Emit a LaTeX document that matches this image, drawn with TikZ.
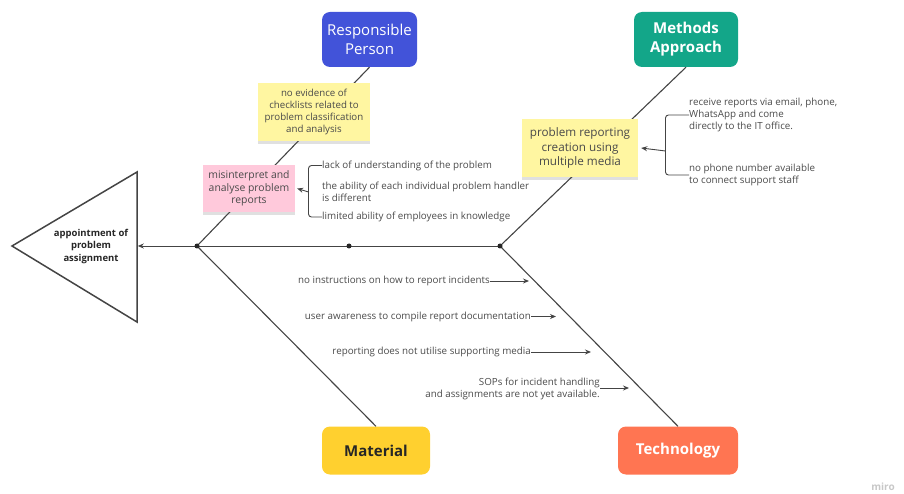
\documentclass[tikz,border=0pt]{standalone}
\usepackage{fontspec}
\setmainfont{Open Sans}
\usetikzlibrary{arrows.meta,shadows}
\definecolor{rpblue}{HTML}{4253D9}
\definecolor{mateal}{HTML}{13A689}
\definecolor{mtyellow}{HTML}{FFD02F}
\definecolor{teorange}{HTML}{FF7552}
\definecolor{stickyY}{HTML}{FFF6A1}
\definecolor{stickyP}{HTML}{FFC9DB}
\definecolor{txtgray}{HTML}{4A4A4A}
\definecolor{linegray}{HTML}{444444}
\tikzset{
  catbox/.style={rounded corners=8pt, minimum width=#1, minimum height=55pt, inner sep=0pt, align=center, font=\fontsize{15}{19}\selectfont},
  sticky/.style={fill=#1, inner sep=0pt, align=center, text=txtgray,
     drop shadow={shadow xshift=0pt, shadow yshift=-3pt, opacity=0.2, fill=black!60}},
  cause/.style={text=txtgray, inner sep=0pt, align=left, font=\fontsize{9.8}{12.4}\selectfont},
  bone/.style={draw=linegray, line width=1.1pt},
  arr/.style={draw=linegray, line width=0.9pt, -{Stealth[length=6pt,width=5pt]}},
  jdot/.style={circle, fill=black!85, inner sep=0pt, minimum size=5pt},
}
\begin{document}
\begin{tikzpicture}[x=1pt,y=-1pt]
\useasboundingbox (0,0) rectangle (904,494);
% category boxes
\node[catbox=95pt, fill=rpblue, text=white] (rp) at (369.5,39.5) {Responsible\\Person};
\node[catbox=104pt, fill=mateal, text=white, font=\fontsize{15}{19}\selectfont\bfseries] (ma) at (686,39.5) {Methods\\Approach};
\node[catbox=108pt, minimum height=48pt, fill=mtyellow, text=black!85, font=\fontsize{15}{19}\selectfont\bfseries] (mt) at (376,450.5) {Material};
\node[catbox=120pt, minimum height=48pt, fill=teorange, text=white, font=\fontsize{15}{19}\selectfont\bfseries] (te) at (678,450.5) {Technology};
% triangle (effect)
\draw[draw=linegray, line width=1.5pt, line join=miter] (12,246) -- (137,172) -- (137,322) -- cycle;
\coordinate (trE) at (137.8,246);
\node[font=\fontsize{9.5}{12.5}\selectfont\bfseries, align=center, text=black!85] (eff) at (91,246.5) {appointment of\\problem\\assignment};
% junctions
\coordinate (j1) at (197,246);
\coordinate (j2) at (349,246);
\coordinate (j3) at (500,246);
% bones
\draw[bone] (rp.south) -- (j1);
\draw[bone] (ma.south) -- (j3);
\draw[bone] (j1) -- (mt.north);
\draw[bone] (j3) -- (te.north);
\draw[arr] (j3) -- (trE);
\node[jdot] at (j1) {};
\node[jdot] at (j2) {};
\node[jdot] at (j3) {};
% sticky notes
\node[sticky=stickyY, minimum width=112pt, minimum height=58pt, font=\fontsize{9.7}{11.8}\selectfont] (s1) at (314,112) {no evidence of\\checklists related to\\problem classification\\and analysis};
\node[sticky=stickyP, minimum width=92pt, minimum height=47pt, font=\fontsize{10.4}{12.5}\selectfont] (s2) at (249,188.5) {misinterpret and\\analyse problem\\reports};
\node[sticky=stickyY, minimum width=116pt, minimum height=58pt, font=\fontsize{11.7}{14.5}\selectfont] (s3) at (580,148) {problem reporting\\creation using\\multiple media};
% causes of s2
\node[cause, anchor=west] (c1) at (322,165.5) {lack of understanding of the problem};
\node[cause, anchor=west] (c2) at (322,192) {the ability of each individual problem handler\\is different};
\node[cause, anchor=west] (c3) at (322,217) {limited ability of employees in knowledge};
\coordinate (b1) at (308.5,192);
\draw[draw=linegray, line width=0.9pt, rounded corners=3pt] (c1.west) -- (c1.west -| b1) -- (c3.west -| b1) -- (c3.west);
\draw[arr] (b1) -- ([xshift=2pt]s2.east);
% causes of s3
\node[cause, anchor=west] (d1) at (689,115) {receive reports via email, phone,\\WhatsApp and come\\directly to the IT office.};
\node[cause, anchor=west] (d2) at (689,175) {no phone number available\\to connect support staff};
\coordinate (b2) at (665.5,151);
\draw[draw=linegray, line width=0.9pt, rounded corners=3pt] (d1.west) -- (d1.west -| b2) -- (d2.west -| b2) -- (d2.west);
\draw[arr] (b2) -- ([xshift=3pt]s3.east);
% technology causes
\node[cause, anchor=east] (e1) at (490,281) {no instructions on how to report incidents};
\node[cause, anchor=east] (e2) at (531,316.5) {user awareness to compile report documentation};
\node[cause, anchor=east] (e3) at (531,352) {reporting does not utilise supporting media};
\node[cause, anchor=east, align=right] (e4) at (600,389) {SOPs for incident handling\\and assignments are not yet available.};
\coordinate (t1) at (529,281);
\coordinate (t2) at (556,316.5);
\coordinate (t3) at (591,352);
\coordinate (t4) at (629,388);
\draw[arr] (e1.east) -- (t1);
\draw[arr] (e2.east) -- (t2);
\draw[arr] (e3.east) -- (t3);
\draw[arr] (e4.east |- t4) -- (t4);
% watermark
\node[text=black!22, font=\fontsize{10}{12}\selectfont\bfseries] (miro) at (883,487) {miro};
\end{tikzpicture}
\end{document}
